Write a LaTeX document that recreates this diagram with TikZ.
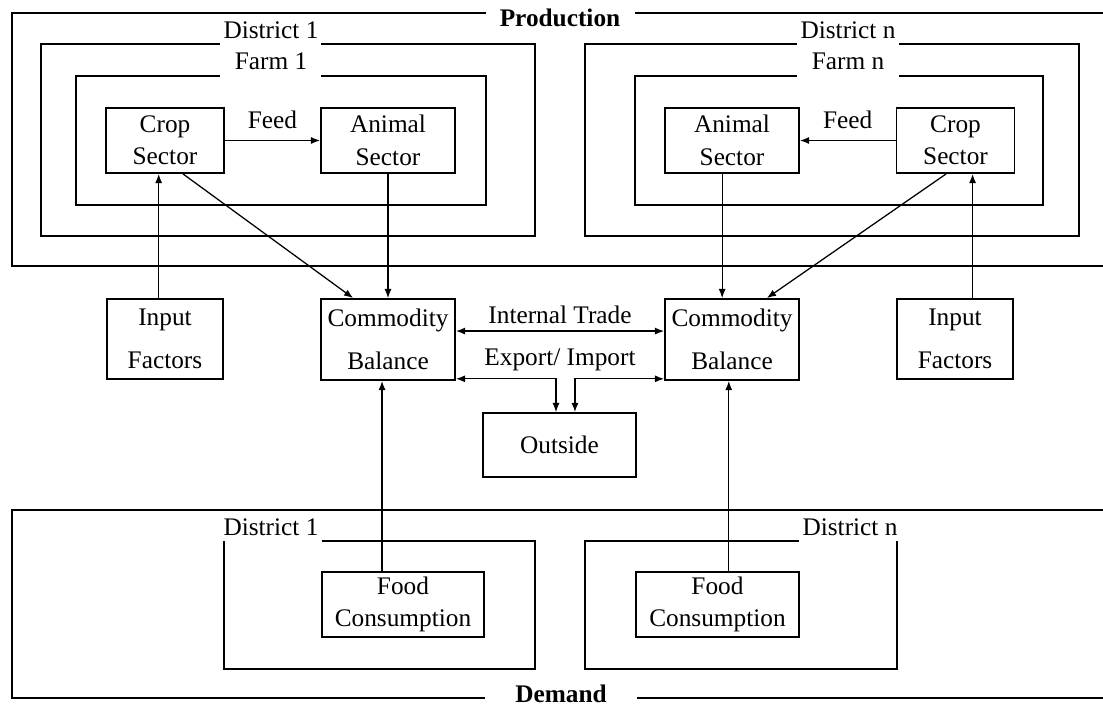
\documentclass[tikz,border=0pt]{standalone}
\usepackage{fontspec}
\setmainfont{Liberation Serif}
\usetikzlibrary{arrows.meta}

\begin{document}
\begin{tikzpicture}[x=0.025cm, y=-0.025cm,
        >={Latex[length=6.5pt,width=5pt]},
        frame/.style={line width=1.3pt},
        flow/.style={->, line width=0.9pt},
        lbl/.style={font=\fontsize{18}{22}\selectfont, inner sep=0pt},
        title/.style={font=\fontsize{18}{22}\selectfont\bfseries, inner sep=0pt},
        boxed/.style={draw, line width=1.3pt, align=center, inner sep=0pt,
            font=\fontsize{18}{23}\selectfont},
        wide/.style={boxed, font=\fontsize{18}{30.5}\selectfont}]

    \useasboundingbox (0,0) rectangle (1103,706);

    % Production
    \draw[frame] (486,13) -- (12,13) |- (1103,266);
    \draw[frame] (635,13) -- (1103,13);
    \node[title] (prod) at (560,18) {Production};

    \draw[frame] (220,44) -- (41,44) |- (535,236) |- (321,44);
    \draw[frame] (220,76) -- (76,76) |- (486,205) |- (321,76);
    \node[lbl] (dist1) at (271,30) {District 1};
    \node[lbl] (farm1) at (271,61) {Farm 1};

    \draw[frame] (797,44) -- (585,44) |- (1079,236) |- (899,44);
    \draw[frame] (797,76) -- (635,76) |- (1043,205) |- (899,76);
    \node[lbl] (distn) at (848,30) {District n};
    \node[lbl] (farmn) at (848,61) {Farm n};

    \node[boxed, minimum width=2.95cm, minimum height=1.625cm] (crop1) at (165,140.5) {Crop\\Sector};
    \node[boxed, minimum width=3.35cm, minimum height=1.625cm] (animal1) at (388,140.5) {Animal\\Sector};
    \node[boxed, minimum width=3.35cm, minimum height=1.625cm] (animaln) at (732,140.5) {Animal\\Sector};
    \node[boxed, minimum width=2.95cm, minimum height=1.625cm] (cropn) at (955.5,140.5) {Crop\\Sector};

    \draw[flow] (crop1) -- node[lbl, above=8pt] (feed1) {Feed} (animal1);
    \draw[flow] (cropn) -- node[lbl, above=8pt] (feedn) {Feed} (animaln);

    % middle row
    \node[wide, minimum width=2.9cm, minimum height=2cm] (input1) at (165,339) {Input\\Factors};
    \node[wide, minimum width=3.35cm, minimum height=2.025cm] (bal1) at (388,339.5) {Commodity\\Balance};
    \node[wide, minimum width=3.35cm, minimum height=2.025cm] (baln) at (732,339.5) {Commodity\\Balance};
    \node[wide, minimum width=2.9cm, minimum height=2cm] (inputn) at (955,339) {Input\\Factors};
    \node[boxed, minimum width=3.825cm, minimum height=1.6cm] (outside) at (559.5,445) {Outside};

    \draw[flow] ([xshift=-4.5pt]input1.north) -- ([xshift=-4.5pt]input1.north |- crop1.south);
    \draw[flow] ([xshift=12.5pt]inputn.north) -- ([xshift=12.5pt]inputn.north |- cropn.south);
    \draw[flow] ([xshift=12.8pt]crop1.south) -- ([xshift=-24.8pt]bal1.north);
    \draw[flow] ([xshift=-6.7pt]cropn.south) -- ([xshift=24.8pt]baln.north);
    \draw[flow] (animal1.south) -- (bal1.north);
    \draw[flow] ([xshift=-7pt]animaln.south) -- ([xshift=-7pt]baln.north);

    \draw[flow, <->] ([yshift=6pt]bal1.east) -- node[lbl, above=4.5pt] (trade) {Internal Trade} ([yshift=6pt]baln.west);
    \draw[flow, <->] ([yshift=1.5pt]bal1.south east) -| ([xshift=-2.5pt]outside.north);
    \draw[flow, <->] ([xshift=11pt]outside.north) |- ([yshift=1.5pt]baln.south west);
    \node[lbl] (export) at (560,360) {Export/ Import};

    % Demand
    \draw[frame] (1103,510) -- (12,510) |- (485,698);
    \draw[frame] (637,698) -- (1103,698);
    \node[title] (dem) at (561,694) {Demand};

    \draw[frame] (322,541) -- (535,541) |- (224,669) -- (224,541);
    \draw[frame] (799,541) -- (585,541) |- (897,669) -- (897,541);
    \node[lbl] (ddist1) at (271,527) {District 1};
    \node[lbl] (ddistn) at (850,527) {District n};

    \node[boxed, minimum width=4.05cm, minimum height=1.625cm] (food1) at (403,604.5) {Food\\Consumption};
    \node[boxed, minimum width=4.075cm, minimum height=1.625cm] (foodn) at (717.5,604.5) {Food\\Consumption};

    \draw[flow] ([xshift=-14.9pt]food1.north) -- ([xshift=-14.9pt]food1.north |- bal1.south);
    \draw[flow] ([xshift=8pt]foodn.north) -- ([xshift=8pt]foodn.north |- baln.south);

\end{tikzpicture}
\end{document}
